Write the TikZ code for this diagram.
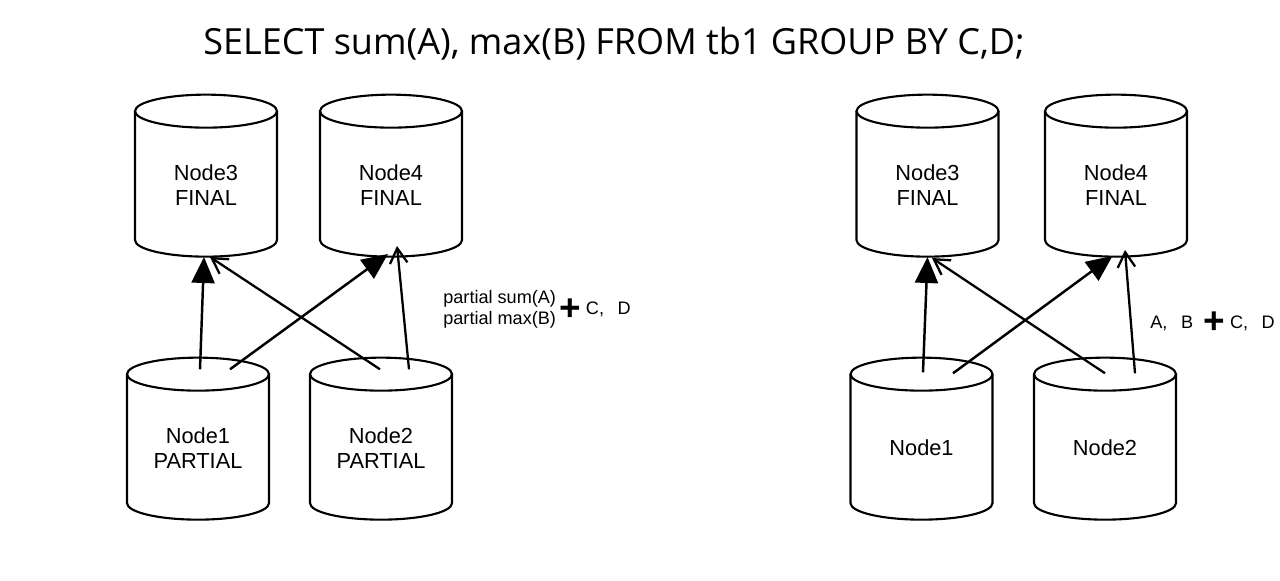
\documentclass[tikz,border=0pt]{standalone}
\usepackage{fontspec}
\setmainfont{Liberation Sans}
\newfontfamily\titlefont{Open Sans}
\usetikzlibrary{arrows.meta, positioning, shapes.geometric, calc}

\tikzset{
  db/.style={minimum width=2.9cm, minimum height=3.3cm, inner sep=0pt,
    path picture={
      \draw[line width=1.2pt]
        ([xshift=0.03cm,yshift=-0.36cm]path picture bounding box.north west)
        -- ([xshift=0.03cm,yshift=0.36cm]path picture bounding box.south west)
        arc[start angle=180, end angle=360, x radius=1.42cm, y radius=0.33cm]
        -- ([xshift=-0.03cm,yshift=-0.36cm]path picture bounding box.north east);
      \draw[line width=1.2pt] ([yshift=-0.36cm]path picture bounding box.north)
        ellipse[x radius=1.42cm, y radius=0.33cm];
    },
    label={[dbtext]center:#1}},
  dbtext/.style={align=center, yshift=-0.18cm, font=\fontsize{12.4}{14.2}\selectfont},
  flow/.style={line width=1.4pt, -{Triangle[length=5.2mm, width=4.6mm]}},
  flowopen/.style={line width=1.3pt, -{Straight Barb[length=3mm, width=3.5mm]}},
  lbl/.style={font=\fontsize{10.3}{12}\selectfont, align=left, inner sep=0pt},
  plus/.style={font=\fontsize{21}{21}\selectfont\bfseries, inner sep=0pt},
}

\begin{document}
\begin{tikzpicture}
  \useasboundingbox (0,0) rectangle (25.6,11.6);

  % query
  \node[font=\titlefont\fontsize{20.5}{22}\selectfont] (query) at (12.28,10.72)
      {SELECT sum(A), max(B) FROM tb1 GROUP BY C,D;};

  % left: partial aggregation
  \node[db={Node3\\FINAL}, anchor=south] (l3) at (4.12,6.43) {};
  \node[db={Node4\\FINAL}, anchor=south] (l4) at (7.82,6.43) {};
  \node[db={Node1\\PARTIAL}, anchor=south] (l1) at (3.96,1.17) {};
  \node[db={Node2\\PARTIAL}, anchor=south] (l2) at (7.62,1.17) {};

  \draw[flow] ([shift={(0.04,-0.27)}]l1.north) -- ([shift={(-0.04,0.03)}]l3.south);
  \draw[flow] ([shift={(0.64,-0.27)}]l1.north) -- ([shift={(-0.06,0.09)}]l4.south);
  \draw[flowopen] ([shift={(-0.02,-0.27)}]l2.north) -- ([shift={(0.08,0.03)}]l3.south);
  \draw[flowopen] ([shift={(0.56,-0.27)}]l2.north) -- ([shift={(0.12,0.25)}]l4.south);

  \node[lbl, anchor=west] (lpart) at (8.86,5.41) {partial sum(A)\\partial max(B)};
  \node[plus, right=0.06cm of lpart] (lplus) {+};
  \node[lbl, right=0.08cm of lplus] (lcd) {C,\hspace{0.75em}D};

  % right: plain shuffle
  \node[db={Node3\\FINAL}, anchor=south] (r3) at (18.55,6.43) {};
  \node[db={Node4\\FINAL}, anchor=south] (r4) at (22.32,6.43) {};
  \node[db={Node1}, anchor=south] (r1) at (18.43,1.17) {};
  \node[db={Node2}, anchor=south] (r2) at (22.10,1.17) {};

  \draw[flow] ([shift={(0.03,-0.33)}]r1.north) -- ([shift={(0,0.03)}]r3.south);
  \draw[flow] ([shift={(0.63,-0.35)}]r1.north) -- ([shift={(-0.07,0.05)}]r4.south);
  \draw[flowopen] ([shift={(0,-0.35)}]r2.north) -- ([shift={(0.09,0.01)}]r3.south);
  \draw[flowopen] ([shift={(0.6,-0.35)}]r2.north) -- ([shift={(0.18,0.17)}]r4.south);

  \node[lbl, anchor=west] (rab) at (23.0,5.14) {A,\hspace{0.75em}B};
  \node[plus, right=0.2cm of rab] (rplus) {+};
  \node[lbl, right=0.08cm of rplus] (rcd) {C,\hspace{0.75em}D};
\end{tikzpicture}
\end{document}
